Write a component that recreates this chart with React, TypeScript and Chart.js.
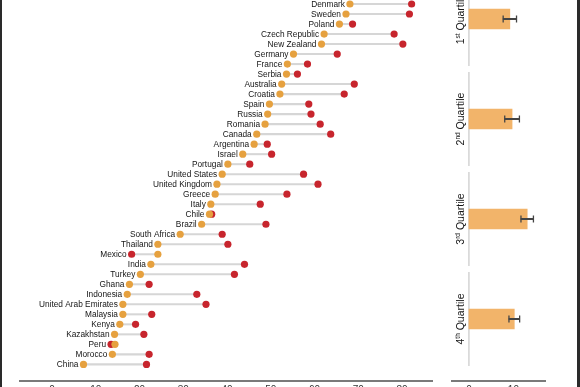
import React, { useEffect, useRef } from 'react';
import { Chart, registerables } from 'chart.js';

Chart.register(...registerables);

// ---------- Data ----------
const countries = [
  'Denmark', 'Sweden', 'Poland', 'Czech Republic', 'New Zealand', 'Germany', 'France', 'Serbia',
  'Australia', 'Croatia', 'Spain', 'Russia', 'Romania', 'Canada', 'Argentina', 'Israel', 'Portugal',
  'United States', 'United Kingdom', 'Greece', 'Italy', 'Chile', 'Brazil', 'South Africa', 'Thailand',
  'Mexico', 'India', 'Turkey', 'Ghana', 'Indonesia', 'United Arab Emirates', 'Malaysia', 'Kenya',
  'Kazakhstan', 'Peru', 'Morocco', 'China',
];

// orange dots
const startValues = [
  68.1, 67.2, 65.7, 62.2, 61.6, 55.2, 53.8, 53.6,
  52.5, 52.1, 49.7, 49.3, 48.7, 46.8, 46.2, 43.6, 40.2,
  38.9, 37.7, 37.3, 36.3, 36.0, 34.2, 29.3, 24.2,
  24.2, 22.6, 20.2, 17.7, 17.2, 16.2, 16.2, 15.5,
  14.3, 14.4, 13.8, 7.2,
];

// red dots
const endValues = [
  82.2, 81.7, 68.7, 78.2, 80.2, 65.2, 58.4, 56.1,
  69.1, 66.8, 58.7, 59.2, 61.3, 63.7, 49.2, 50.2, 45.2,
  57.5, 60.8, 53.7, 47.6, 36.5, 48.9, 38.9, 40.2,
  18.2, 44.0, 41.7, 22.2, 33.1, 35.2, 22.8, 19.1,
  21.0, 13.5, 22.2, 21.6,
];

const leftTicks = [0, 10, 20, 30, 40, 50, 60, 70, 80];

const quartileNumbers = ['1', '2', '3', '4'];
const quartileSuffixes = ['st', 'nd', 'rd', 'th'];
const quartileWord = 'Quartile';
const quartileValues = [9.2, 9.7, 13.1, 10.2];
const quartileErrors = [1.5, 1.65, 1.4, 1.2];
const rightTicks = [0, 10];

// ---------- Styles ----------
const FONT = '"Liberation Sans", Arial, Helvetica, sans-serif';
const ORANGE = '#E6A13F';
const RED = '#C7252D';
const BAR = '#F2B46A';
const CONNECTOR = '#D6D6D6';
const SEPARATOR = '#D4D4D4';
const ERR = '#444444';
const AXIS = '#7a7a7a';

const countryLabelPlugin = {
  id: 'countryLabels',
  afterDatasetsDraw(chart: any) {
    const { ctx, scales } = chart;
    const x = scales.x;
    const y = scales.y;
    ctx.save();
    ctx.font = `8.3px ${FONT}`;
    ctx.fillStyle = '#151515';
    ctx.textAlign = 'right';
    ctx.textBaseline = 'middle';
    countries.forEach((c, i) => {
      const m = Math.min(startValues[i], endValues[i]);
      ctx.fillText(c, x.getPixelForValue(m) - 5, y.getPixelForValue(i) + 0.5);
    });
    ctx.restore();
  },
};

const quartileLabelPlugin = {
  id: 'quartileLabels',
  afterDatasetsDraw(chart: any) {
    const { ctx, scales } = chart;
    const x = scales.x;
    const y = scales.y;
    const bx = x.getPixelForValue(0) - 5;
    const big = `10.5px ${FONT}`;
    const small = `6.5px ${FONT}`;
    quartileNumbers.forEach((n, i) => {
      const cy = y.getPixelForValue(i);
      const suffix = quartileSuffixes[i];
      const rest = ' ' + quartileWord;
      ctx.save();
      ctx.translate(bx, cy);
      ctx.rotate(-Math.PI / 2);
      ctx.fillStyle = '#151515';
      ctx.textAlign = 'left';
      ctx.textBaseline = 'alphabetic';
      ctx.font = big;
      const w1 = ctx.measureText(n).width;
      const w3 = ctx.measureText(rest).width;
      ctx.font = small;
      const w2 = ctx.measureText(suffix).width;
      let px = -(w1 + w2 + w3) / 2;
      ctx.font = big;
      ctx.fillText(n, px, 0);
      px += w1;
      ctx.font = small;
      ctx.fillText(suffix, px, -3.8);
      px += w2;
      ctx.font = big;
      ctx.fillText(rest, px, 0);
      ctx.restore();
    });
  },
};

export default function App() {
  const leftRef = useRef<HTMLCanvasElement>(null);
  const rightRef = useRef<HTMLCanvasElement>(null);

  useEffect(() => {
    const left = new Chart(leftRef.current as HTMLCanvasElement, {
      type: 'bar',
      data: {
        datasets: [
          {
            type: 'scatter',
            data: startValues.map((v, i) => ({ x: v, y: i })),
            backgroundColor: ORANGE,
            borderWidth: 0,
            pointRadius: 3.6,
            order: 0,
          } as any,
          {
            type: 'scatter',
            data: endValues.map((v, i) => ({ x: v, y: i })),
            backgroundColor: RED,
            borderWidth: 0,
            pointRadius: 3.6,
            order: 1,
          } as any,
          {
            type: 'bar',
            data: countries.map((_, i) => ({ y: i, x: [startValues[i], endValues[i]] })),
            backgroundColor: CONNECTOR,
            barThickness: 1.4,
            grouped: false,
            order: 2,
          } as any,
        ],
      },
      options: {
        indexAxis: 'y',
        animation: false,
        responsive: false,
        events: [],
        layout: { autoPadding: false, padding: { left: 20, right: 8, top: 0, bottom: 0 } },
        plugins: { legend: { display: false }, tooltip: { enabled: false } },
        scales: {
          x: {
            type: 'linear',
            min: -7.31,
            max: 86.86,
            offset: false,
            afterBuildTicks: (axis: any) => {
              axis.ticks = leftTicks.map((v) => ({ value: v }));
            },
            grid: { display: false, drawTicks: false },
            border: { display: true, color: AXIS, width: 2 },
            ticks: { padding: 3.5, color: '#333', font: { size: 10, family: FONT } },
          },
          y: {
            type: 'linear',
            reverse: true,
            min: -0.4,
            max: 37.66,
            offset: false,
            grid: { offset: false },
            display: false,
          },
        },
      } as any,
      plugins: [countryLabelPlugin],
    });

    const sepData: any[] = [];
    quartileNumbers.forEach((_, i) => {
      if (i > 0) sepData.push({ x: null, y: i - 0.5 });
      sepData.push({ x: 0, y: i - 0.47 });
      sepData.push({ x: 0, y: i + 0.47 });
    });
    const capData: any[] = [];
    quartileValues.forEach((v, i) => {
      capData.push({ x: v - quartileErrors[i], y: i });
      capData.push({ x: v + quartileErrors[i], y: i });
    });

    const right = new Chart(rightRef.current as HTMLCanvasElement, {
      type: 'bar',
      data: {
        datasets: [
          {
            type: 'scatter',
            data: capData,
            pointStyle: 'line',
            rotation: 90,
            pointRadius: 3.5,
            borderColor: ERR,
            borderWidth: 1.3,
            order: 0,
          } as any,
          {
            type: 'bar',
            data: quartileValues.map((v, i) => ({ y: i, x: [v - quartileErrors[i], v + quartileErrors[i]] })),
            backgroundColor: ERR,
            barThickness: 1.3,
            grouped: false,
            order: 1,
          } as any,
          {
            type: 'bar',
            data: quartileValues.map((v, i) => ({ y: i, x: v })),
            backgroundColor: BAR,
            barThickness: 20,
            grouped: false,
            order: 2,
          } as any,
          {
            type: 'line',
            data: sepData,
            borderColor: SEPARATOR,
            borderWidth: 1.5,
            pointRadius: 0,
            spanGaps: false,
            order: 3,
          } as any,
        ],
      },
      options: {
        indexAxis: 'y',
        animation: false,
        responsive: false,
        events: [],
        layout: { autoPadding: false, padding: { left: 12, right: 35, top: 0, bottom: 0 } },
        plugins: { legend: { display: false }, tooltip: { enabled: false } },
        scales: {
          x: {
            type: 'linear',
            min: -3.8,
            max: 17.1,
            offset: false,
            afterBuildTicks: (axis: any) => {
              axis.ticks = rightTicks.map((v) => ({ value: v }));
            },
            grid: { display: false, drawTicks: false },
            border: { display: true, color: AXIS, width: 2 },
            ticks: { padding: 3.5, color: '#333', font: { size: 10, family: FONT } },
          },
          y: {
            type: 'linear',
            reverse: true,
            min: -0.19,
            max: 3.62,
            offset: false,
            grid: { offset: false },
            display: false,
          },
        },
      } as any,
      plugins: [quartileLabelPlugin],
    });

    return () => {
      left.destroy();
      right.destroy();
    };
  }, []);

  return (
    <div
      style={{
        position: 'fixed',
        left: 0,
        top: 0,
        width: 580,
        height: 387,
        overflow: 'hidden',
        background: '#fff',
      }}
    >
      <canvas
        ref={leftRef}
        width={440}
        height={400}
        style={{ position: 'absolute', left: 0, top: 0, width: 440, height: 400 }}
      />
      <canvas
        ref={rightRef}
        width={140}
        height={400}
        style={{ position: 'absolute', left: 440, top: 0, width: 140, height: 400 }}
      />
      <div style={{ position: 'absolute', left: 0, top: 0, width: 2, height: 387, background: '#2a2a2a' }} />
      <div style={{ position: 'absolute', left: 577, top: 0, width: 3, height: 387, background: '#2a2a2a' }} />
    </div>
  );
}
